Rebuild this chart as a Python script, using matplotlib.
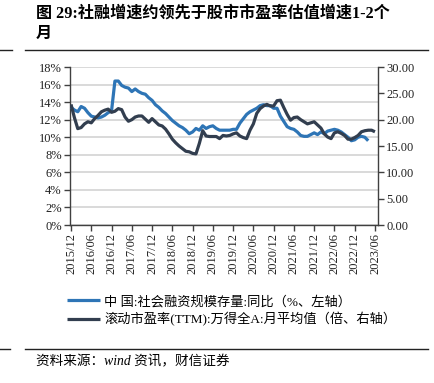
import matplotlib
matplotlib.use("Agg")
import matplotlib.pyplot as plt
import numpy as np

# ---------------------------------------------------------------------------
# data (monthly, starting 2015/12)
# ---------------------------------------------------------------------------
tick_labels = ["2015/12", "2016/06", "2016/12", "2017/06", "2017/12", "2018/06",
               "2018/12", "2019/06", "2019/12", "2020/06", "2020/12", "2021/06",
               "2021/12", "2022/06", "2022/12", "2023/06"]

# 中国:社会融资规模存量:同比 (%), 2015/12 - 2023/04
tsf_yoy = [13.4, 13.1, 12.9, 13.5, 13.3, 12.8, 12.4, 12.3, 12.2, 12.3,
           12.5, 12.8, 13.0, 16.4, 16.4, 15.9, 15.7, 15.6, 15.2, 15.5,
           15.2, 15.0, 14.9, 14.5, 14.2, 13.7, 13.4, 13.0, 12.7, 12.3,
           11.9, 11.6, 11.3, 11.1, 10.8, 10.4, 10.6, 11.0, 10.8, 11.3,
           11.0, 11.2, 11.3, 11.0, 10.8, 10.8, 10.8, 10.8, 10.9, 10.9,
           11.6, 12.1, 12.6, 12.9, 13.1, 13.3, 13.6, 13.7, 13.6, 13.6,
           13.3, 13.3, 12.4, 11.8, 11.2, 11.0, 10.9, 10.6, 10.2, 10.1,
           10.1, 10.3, 10.5, 10.3, 10.6, 10.4, 10.7, 10.8, 10.9, 10.8,
           10.6, 10.3, 10.0, 9.6, 9.7, 10.0, 10.1, 10.0, 9.6]

# 滚动市盈率(TTM):万得全A:月平均值 (倍), 2015/12 - 2023/06
pe_ttm = [22.9, 20.4, 18.3, 18.5, 19.2, 19.6, 19.4, 20.2, 20.8, 21.5,
          21.8, 22.0, 21.4, 21.6, 22.1, 21.9, 20.5, 19.7, 20.0, 20.5,
          20.7, 20.7, 20.1, 19.5, 20.2, 19.6, 19.0, 18.8, 18.2, 17.3,
          16.3, 15.6, 15.0, 14.5, 14.0, 13.9, 13.6, 13.5, 15.5, 17.9,
          16.9, 16.8, 16.8, 16.8, 16.4, 17.0, 16.9, 17.0, 17.3, 17.5,
          16.9, 16.6, 16.4, 18.0, 19.2, 21.2, 22.1, 22.6, 22.9, 22.6,
          22.6, 23.6, 23.7, 22.3, 21.0, 19.9, 20.4, 20.5, 20.0, 19.6,
          19.2, 19.4, 19.6, 19.0, 18.4, 17.3, 16.7, 16.4, 17.5, 17.7,
          17.4, 17.0, 16.3, 16.3, 16.6, 17.0, 17.7, 17.9, 18.0, 18.0,
          17.7]

label_tsf = "中 国:社会融资规模存量:同比（%、左轴）"
label_pe = "滚动市盈率(TTM):万得全A:月平均值（倍、右轴）"

BLUE = "#2E75B6"
DARK = "#323E4F"
SERIF = ["Liberation Serif", "Noto Sans CJK SC"]

plt.rcParams["font.family"] = SERIF

# ---------------------------------------------------------------------------
# figure
# ---------------------------------------------------------------------------
fig = plt.figure(figsize=(4.35, 3.83), dpi=100)
ax1 = fig.add_axes([70 / 435, 1 - 225 / 383, 308 / 435, 158 / 383])
ax2 = ax1.twinx()

x_tsf = np.arange(len(tsf_yoy))
x_pe = np.arange(len(pe_ttm))

ax1.plot(x_tsf, tsf_yoy, color=BLUE, linewidth=2.3, zorder=3,
         solid_capstyle="butt", label=label_tsf)
ax2.plot(x_pe, pe_ttm, color=DARK, linewidth=2.3, zorder=3,
         solid_capstyle="butt", label=label_pe)

ax1.set_ylim(0, 18)
ax1.set_yticks(np.arange(0, 19, 2))
ax1.set_yticklabels([f"{v}%" for v in range(0, 19, 2)])
ax2.set_ylim(0, 30)
ax2.set_yticks(np.arange(0, 31, 5))
ax2.set_yticklabels([f"{v:.2f}" for v in range(0, 31, 5)])

ax1.set_xlim(-0.3, 90.9)
ax1.set_xticks(np.arange(0, 91, 6))
ax1.set_xticklabels(tick_labels, rotation=90)

ax1.grid(axis="y", color="#D9D9D9", linewidth=1.4, zorder=0)
ax1.set_axisbelow(True)

for ax in (ax1, ax2):
    ax.spines["top"].set_visible(False)
    for side in ("left", "right", "bottom"):
        ax.spines[side].set_color("#404040")
        ax.spines[side].set_linewidth(1.0)
    ax.tick_params(direction="out", length=4, width=1.0, color="#404040",
                   labelsize=9, labelcolor="#222222", pad=2)
ax1.spines["right"].set_visible(False)
ax2.spines["left"].set_visible(False)
ax2.spines["bottom"].set_visible(False)

# ---------------------------------------------------------------------------
# legend
# ---------------------------------------------------------------------------
h1, l1 = ax1.get_legend_handles_labels()
h2, l2 = ax2.get_legend_handles_labels()
fig.legend(h1 + h2, l1 + l2, loc="upper left",
           bbox_to_anchor=(62 / 435, 1 - 290 / 383),
           frameon=False, fontsize=9.5, handlelength=2.5, handletextpad=0.3,
           labelspacing=0.3, borderaxespad=0)

# ---------------------------------------------------------------------------
# title / source
# ---------------------------------------------------------------------------
fig.text(36 / 435, 1 - 14 / 383, "图 29:社融增速约领先于股市市盈率估值增速1-2个",
         fontsize=11.6, fontweight="bold", va="center", ha="left")
fig.text(36 / 435, 1 - 34 / 383, "月",
         fontsize=11.6, fontweight="bold", va="center", ha="left")

line_kw = dict(color="#222222", linewidth=1.0, transform=fig.transFigure)
fig.add_artist(plt.Line2D([0, 12 / 435], [1 - 50 / 383] * 2, **line_kw))
fig.add_artist(plt.Line2D([25 / 435, 428 / 435], [1 - 50 / 383] * 2, **line_kw))
fig.add_artist(plt.Line2D([0, 10 / 435], [1 - 349 / 383] * 2, **line_kw))
fig.add_artist(plt.Line2D([25 / 435, 428 / 435], [1 - 349 / 383] * 2, **line_kw))

fig.text(36 / 435, 1 - 362 / 383, "资料来源：wind 资讯，财信证券",
         fontsize=9.8, style="italic", va="center", ha="left")

fig.savefig("out.png", dpi=100)
